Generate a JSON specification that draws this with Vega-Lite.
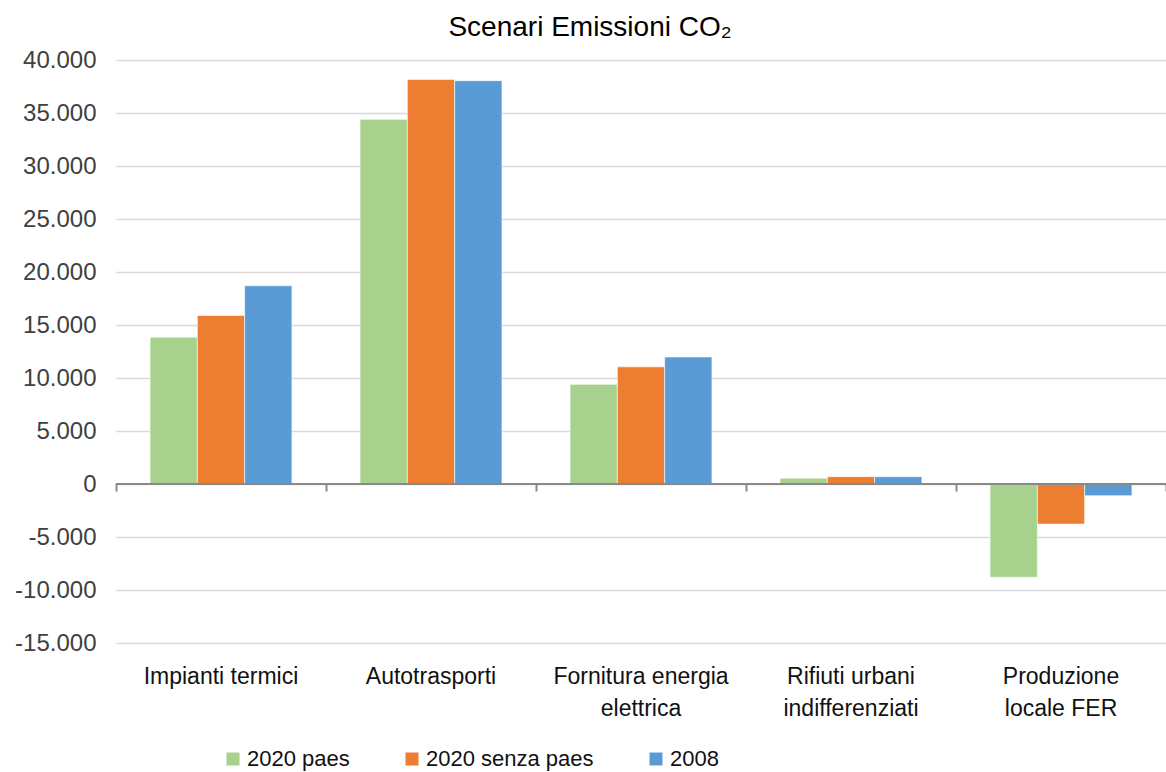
{
  "$schema": "https://vega.github.io/schema/vega-lite/v6.json",
  "width": 1050,
  "height": 583,
  "autosize": {"type": "none"},
  "padding": {"left": 116, "top": 60, "right": 0, "bottom": 129},
  "background": "white",
  "title": {
    "text": "Scenari Emissioni CO₂",
    "fontSize": 28,
    "font": "Liberation Sans",
    "fontWeight": "normal",
    "color": "#000000",
    "anchor": "middle",
    "frame": "group",
    "dx": -51,
    "offset": 6
  },
  "config": {
    "locale": {"number": {"decimal": ",", "thousands": ".", "grouping": [3], "currency": ["€", ""], "minus": "-"}},
    "view": {"stroke": null},
    "font": "Liberation Sans"
  },
  "data": {
    "values": [
      {"categoria": "Impianti termici", "serie": "2020 paes", "valore": 13850},
      {"categoria": "Impianti termici", "serie": "2020 senza paes", "valore": 15900},
      {"categoria": "Impianti termici", "serie": "2008", "valore": 18700},
      {"categoria": "Autotrasporti", "serie": "2020 paes", "valore": 34400},
      {"categoria": "Autotrasporti", "serie": "2020 senza paes", "valore": 38170},
      {"categoria": "Autotrasporti", "serie": "2008", "valore": 38050},
      {"categoria": "Fornitura energia elettrica", "serie": "2020 paes", "valore": 9400},
      {"categoria": "Fornitura energia elettrica", "serie": "2020 senza paes", "valore": 11050},
      {"categoria": "Fornitura energia elettrica", "serie": "2008", "valore": 11980},
      {"categoria": "Rifiuti urbani indifferenziati", "serie": "2020 paes", "valore": 550},
      {"categoria": "Rifiuti urbani indifferenziati", "serie": "2020 senza paes", "valore": 690},
      {"categoria": "Rifiuti urbani indifferenziati", "serie": "2008", "valore": 690},
      {"categoria": "Produzione locale FER", "serie": "2020 paes", "valore": -8800},
      {"categoria": "Produzione locale FER", "serie": "2020 senza paes", "valore": -3780},
      {"categoria": "Produzione locale FER", "serie": "2008", "valore": -1100}
    ]
  },
  "encoding": {
    "x": {
      "field": "categoria",
      "type": "nominal",
      "sort": null,
      "scale": {"paddingInner": 0, "paddingOuter": 0}
    }
  },
  "layer": [
    {
      "mark": {"type": "bar", "stroke": "white", "strokeWidth": 0.6},
      "encoding": {
        "x": {
          "field": "categoria",
          "type": "nominal",
          "sort": null,
          "title": null,
          "axis": {
            "orient": "bottom",
            "domain": false,
            "ticks": false,
            "labelAngle": 0,
            "labelFont": "Liberation Sans",
            "labelFontSize": 23,
            "labelLimit": 400,
            "labelColor": "#111111",
            "labelPadding": 22,
            "labelLineHeight": 32,
            "labelBaseline": "top",
            "labelExpr": "datum.label == 'Fornitura energia elettrica' ? ['Fornitura energia', 'elettrica'] : datum.label == 'Rifiuti urbani indifferenziati' ? ['Rifiuti urbani', 'indifferenziati'] : datum.label == 'Produzione locale FER' ? ['Produzione', 'locale FER'] : datum.label"
          }
        },
        "xOffset": {
          "field": "serie",
          "type": "nominal",
          "sort": ["2020 paes", "2020 senza paes", "2008"],
          "scale": {"paddingInner": 0, "paddingOuter": 0.72}
        },
        "y": {
          "field": "valore",
          "type": "quantitative",
          "title": null,
          "scale": {"domain": [-15000, 40000], "nice": false},
          "axis": {
            "values": [-15000, -10000, -5000, 0, 5000, 10000, 15000, 20000, 25000, 30000, 35000, 40000],
            "format": ",.0f",
            "domain": false,
            "ticks": false,
            "labelFont": "Liberation Sans",
            "labelFontSize": 24,
            "labelColor": "#404040",
            "labelPadding": 20,
            "gridColor": "#d9d9d9",
            "gridWidth": 1.5
          }
        },
        "color": {
          "field": "serie",
          "type": "nominal",
          "sort": ["2020 paes", "2020 senza paes", "2008"],
          "scale": {"domain": ["2020 paes", "2020 senza paes", "2008"], "range": ["#A9D18E", "#ED7D31", "#5B9BD5"]},
          "legend": {
            "title": null,
            "orient": "none",
            "direction": "horizontal",
            "legendX": 106,
            "legendY": 688,
            "symbolType": "square",
            "symbolSize": 169,
            "symbolStrokeWidth": 0,
            "labelFont": "Liberation Sans",
            "labelFontSize": 22,
            "labelLimit": 400,
            "labelColor": "#111111",
            "columnPadding": 51,
            "labelOffset": 3
          }
        }
      }
    },
    {
      "mark": {"type": "rule", "color": "#898989", "strokeWidth": 2},
      "encoding": {
        "y": {"datum": 0, "type": "quantitative"},
        "x": {"value": 0},
        "x2": {"value": 1050}
      }
    },
    {
      "mark": {"type": "tick", "opacity": 0},
      "data": {"values": [{"categoria": "Impianti termici"}]},
      "encoding": {
        "x": {
          "field": "categoria",
          "type": "nominal",
          "sort": null,
          "axis": {
            "orient": "bottom",
            "offset": -160,
            "title": null,
            "labels": false,
            "domain": false,
            "grid": false,
            "ticks": true,
            "tickBand": "extent",
            "tickSize": 8,
            "tickWidth": 2,
            "tickColor": "#898989"
          }
        }
      }
    }
  ],
  "resolve": {"axis": {"x": "independent"}}
}
